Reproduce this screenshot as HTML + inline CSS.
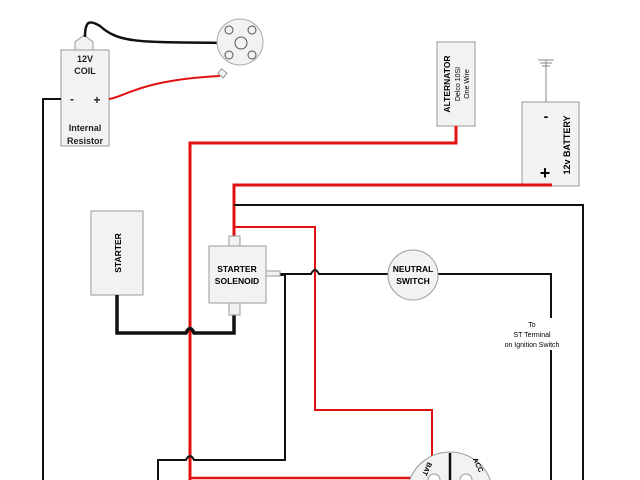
<!DOCTYPE html>
<html><head><style>html,body{margin:0;padding:0;background:#fff;width:640px;height:480px;overflow:hidden}svg{display:block}</style></head><body>
<svg width="640" height="480" viewBox="0 0 640 480" font-family="Liberation Sans, sans-serif" overflow="hidden">
<rect width="640" height="480" fill="#fff"/>
<path d="M75,50 L75,42 L84,35 L93,42 L93,50" fill="#f2f2f2" stroke="#999"/>
<rect x="61" y="50" width="48" height="96" fill="#f2f2f2" stroke="#999"/>
<g font-size="9" font-weight="bold" fill="#222" text-anchor="middle">
<text x="85" y="62">12V</text><text x="85" y="74">COIL</text>
<text x="72" y="103" font-size="12">-</text><text x="97" y="104" font-size="12">+</text>
<text x="85" y="131">Internal</text><text x="85" y="144">Resistor</text></g>
<path d="M85,37 C85,20 90,20 100,26 C120,44 140,42 240,43" fill="none" stroke="#111" stroke-width="2.5"/>
<path d="M109,99 C125,97 140,80 220,76" fill="none" stroke="#e01010" stroke-width="2"/>
<circle cx="240" cy="42" r="23" fill="#f2f2f2" stroke="#aaa"/>
<circle cx="241" cy="43" r="6" fill="#f2f2f2" stroke="#555"/>
<circle cx="229" cy="30" r="4" fill="none" stroke="#555"/><circle cx="252" cy="30" r="4" fill="none" stroke="#555"/>
<circle cx="229" cy="55" r="4" fill="none" stroke="#555"/><circle cx="252" cy="55" r="4" fill="none" stroke="#555"/>
<rect x="219" y="70" width="7" height="6" fill="#f2f2f2" stroke="#999" transform="rotate(40 222 73)"/>
<path d="M61,99 L43,99 L43,480" fill="none" stroke="#111" stroke-width="2"/>
<rect x="437" y="42" width="38" height="84" fill="#f2f2f2" stroke="#999"/>
<g transform="translate(450,84) rotate(-90)" text-anchor="middle"><text font-size="8.5" font-weight="bold" y="0">ALTERNATOR</text><text font-size="7" y="10">Delco 10SI</text><text font-size="7" y="19">One Wire</text></g>
<path d="M456,126 L456,143 L190,143 L190,480" fill="none" stroke="#e01010" stroke-width="3"/>
<path d="M546,60 L546,102 M538,60 L554,60 M540,63 L552,63 M542,66 L550,66" stroke="#888" fill="none"/>
<rect x="522" y="102" width="57" height="84" fill="#f2f2f2" stroke="#999"/>
<text x="546" y="121" font-size="14" font-weight="bold" text-anchor="middle">-</text>
<text x="545" y="179" font-size="18" font-weight="bold" text-anchor="middle">+</text>
<text transform="translate(570,145) rotate(-90)" font-size="9" font-weight="bold" text-anchor="middle">12v   BATTERY</text>
<path d="M552,185 L234,185 L234,238" fill="none" stroke="#e01010" stroke-width="3"/>
<path d="M234,205 L583,205 L583,480" fill="none" stroke="#111" stroke-width="2"/>
<path d="M234,227 L315,227 L315,410 L432,410 L432,474" fill="none" stroke="#e01010" stroke-width="2"/>
<path d="M280,274 L311,274 Q315,266 319,274 L389,274 M438,274 L551,274 L551,318 M551,350 L551,480" fill="none" stroke="#111" stroke-width="2"/>
<circle cx="413" cy="275" r="25" fill="#f2f2f2" stroke="#999"/>
<g font-size="8.5" font-weight="bold" text-anchor="middle"><text x="413" y="272">NEUTRAL</text><text x="413" y="284">SWITCH</text></g>
<g font-size="7" text-anchor="middle"><text x="532" y="327">To</text><text x="532" y="337">ST Terminal</text><text x="532" y="347">on Ignition Switch</text></g>
<path d="M280,275 L285,275 L285,460 L194,460 Q190,452 186,460 L158,460 L158,480" fill="none" stroke="#111" stroke-width="2"/>
<rect x="91" y="211" width="52" height="84" fill="#f2f2f2" stroke="#999"/>
<text transform="translate(121,253) rotate(-90)" font-size="8.5" font-weight="bold" text-anchor="middle">STARTER</text>
<path d="M117,295 L117,333 L186,333 Q190,324 194,333 L234,333 L234,315" fill="none" stroke="#111" stroke-width="3.5"/>
<rect x="229" y="236" width="11" height="10" fill="#f2f2f2" stroke="#999"/>
<rect x="229" y="303" width="11" height="12" fill="#f2f2f2" stroke="#999"/>
<rect x="266" y="271" width="14" height="5" fill="#f2f2f2" stroke="#999"/>
<rect x="209" y="246" width="57" height="57" fill="#f2f2f2" stroke="#999"/>
<g font-size="8.5" font-weight="bold" text-anchor="middle"><text x="237" y="272">STARTER</text><text x="237" y="284">SOLENOID</text></g>
<path d="M190,478 L430,478" stroke="#e01010" stroke-width="2.5"/>
<path d="M409.7,480 A43,43 0 0 1 490.3,480" fill="#f2f2f2" stroke="#999"/>
<path d="M450,453 L450,480" stroke="#111" stroke-width="2.5"/>
<path d="M428,480 A6,6 0 0 1 440,480" fill="#fff" stroke="#999"/>
<path d="M460,480 A6,6 0 0 1 472,480" fill="#fff" stroke="#999"/>
<text transform="translate(425,468) rotate(115)" font-size="7" font-weight="bold" text-anchor="middle">BAT</text>
<text transform="translate(476,466) rotate(65)" font-size="7" font-weight="bold" text-anchor="middle">ACC</text>
</svg>
</body></html>
